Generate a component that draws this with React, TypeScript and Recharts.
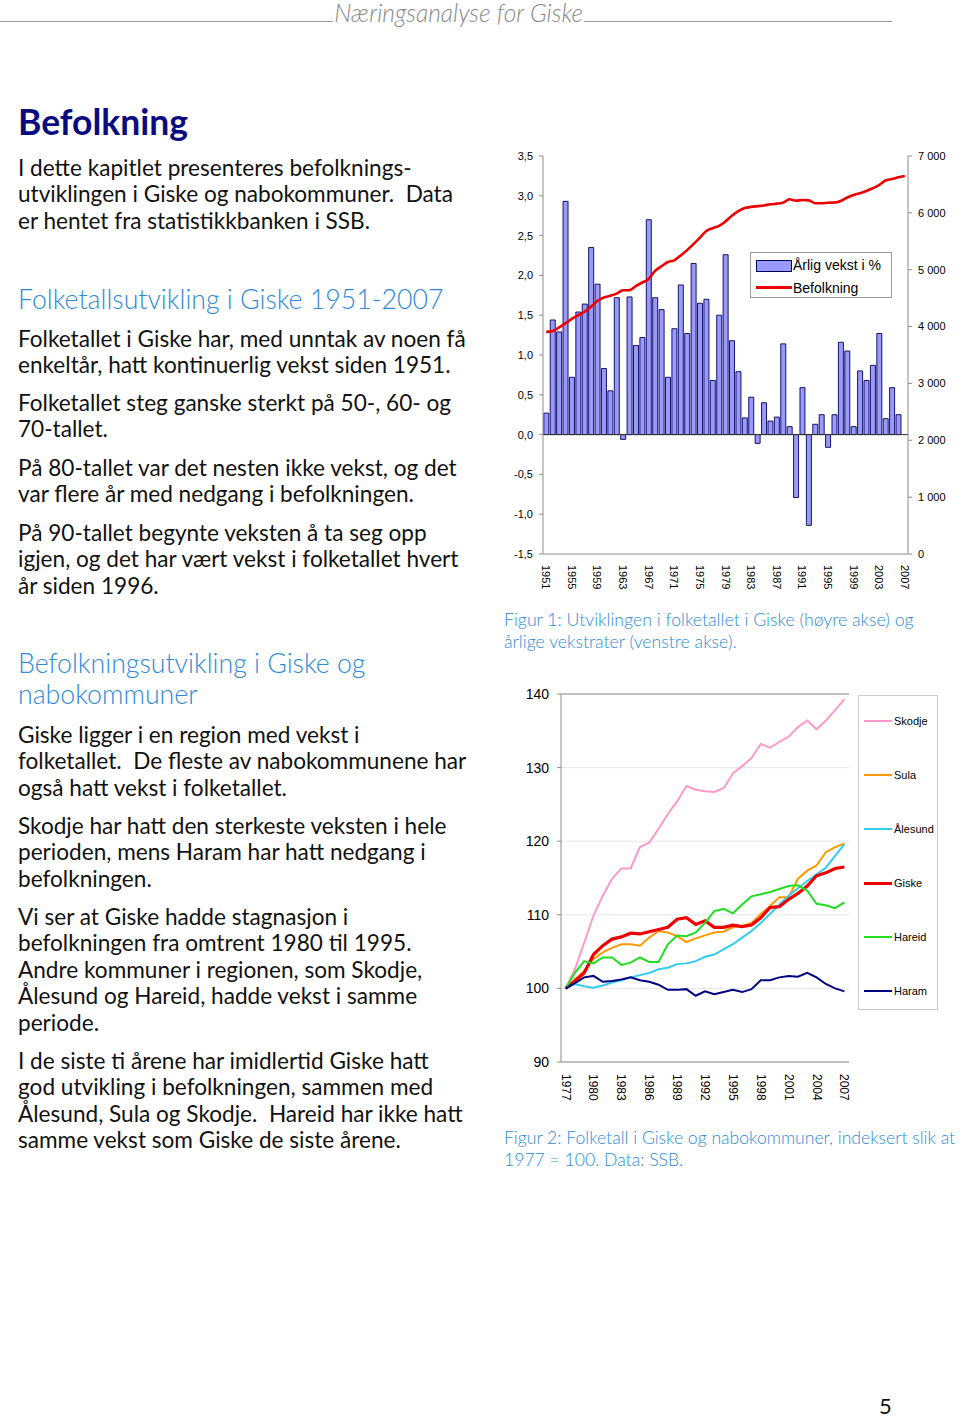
import React from "react";
import { Bar, CartesianGrid, ComposedChart, Line, LineChart, ReferenceLine, XAxis, YAxis } from "recharts";

// Figur 1: Giske 1951-2007
const yearsTop = [
  1951, 1952, 1953, 1954, 1955, 1956, 1957, 1958, 1959, 1960, 1961, 1962, 1963, 1964, 1965,
  1966, 1967, 1968, 1969, 1970, 1971, 1972, 1973, 1974, 1975, 1976, 1977, 1978, 1979, 1980,
  1981, 1982, 1983, 1984, 1985, 1986, 1987, 1988, 1989, 1990, 1991, 1992, 1993, 1994, 1995,
  1996, 1997, 1998, 1999, 2000, 2001, 2002, 2003, 2004, 2005, 2006, 2007,
];
const arligVekst = [
  0.27, 1.44, 1.29, 2.93, 0.72, 1.54, 1.64, 2.35, 1.89, 0.83, 0.55, 1.72, -0.06, 1.73, 1.12,
  1.22, 2.7, 1.72, 1.57, 0.72, 1.33, 1.88, 1.27, 2.15, 1.65, 1.7, 0.68, 1.5, 2.26, 1.18,
  0.79, 0.21, 0.47, -0.11, 0.4, 0.17, 0.22, 1.14, 0.1, -0.79, 0.59, -1.14, 0.13, 0.25, -0.16,
  0.25, 1.16, 1.05, 0.1, 0.8, 0.68, 0.87, 1.27, 0.2, 0.59, 0.25, null,
];
const befolkning = [
  3907, 3920, 3985, 4055, 4137, 4200, 4260, 4350, 4450, 4510, 4540, 4580, 4640, 4640, 4710,
  4775, 4835, 4980, 5060, 5135, 5165, 5250, 5345, 5450, 5565, 5680, 5730, 5770, 5850, 5950,
  6030, 6085, 6105, 6118, 6130, 6150, 6162, 6180, 6240, 6215, 6225, 6220, 6170, 6168, 6178,
  6182, 6210, 6270, 6314, 6344, 6384, 6432, 6490, 6570, 6595, 6625, 6650,
];
const leftTicks = [-1.5, -1, -0.5, 0, 0.5, 1, 1.5, 2, 2.5, 3, 3.5];
const rightTicks = [0, 1000, 2000, 3000, 4000, 5000, 6000, 7000];

// Figur 2: indeks 1977 = 100
const yearsIdx = [
  1977, 1978, 1979, 1980, 1981, 1982, 1983, 1984, 1985, 1986, 1987, 1988, 1989, 1990, 1991,
  1992, 1993, 1994, 1995, 1996, 1997, 1998, 1999, 2000, 2001, 2002, 2003, 2004, 2005, 2006, 2007,
];
const skodje = [
  100, 102.6, 106.2, 109.9, 112.6, 114.9, 116.3, 116.3, 119.2, 119.8, 121.7, 123.7, 125.4, 127.5, 127.0,
  126.8, 126.7, 127.2, 129.2, 130.2, 131.3, 133.2, 132.7, 133.5, 134.2, 135.5, 136.4, 135.2, 136.4, 137.8, 139.3,
];
const sula = [
  100, 101.2, 102.4, 104.0, 104.9, 105.5, 106.0, 106.0, 105.8, 106.9, 107.8, 107.6, 107.1, 106.3, 106.8,
  107.2, 107.6, 107.7, 108.3, 108.5, 108.9, 110.1, 111.2, 112.4, 112.4, 114.9, 116.0, 116.7, 118.5, 119.2, 119.7,
];
const alesund = [
  100, 100.6, 100.3, 100.1, 100.4, 100.8, 101.1, 101.5, 101.8, 102.1, 102.6, 102.8, 103.3, 103.4, 103.7,
  104.3, 104.6, 105.3, 106.0, 106.9, 107.8, 108.9, 110.1, 111.4, 112.6, 113.6, 114.6, 115.5, 116.4, 118.0, 119.6,
];
const giske = [
  100, 101.0, 102.1, 104.6, 105.8, 106.7, 107.0, 107.5, 107.4, 107.7, 108.0, 108.3, 109.4, 109.6, 108.7,
  109.2, 108.3, 108.3, 108.6, 108.4, 108.6, 109.6, 111.0, 111.1, 112.1, 112.9, 113.9, 115.3, 115.7, 116.3, 116.5,
];
const hareid = [
  100, 102.1, 103.7, 103.4, 104.2, 104.2, 103.2, 103.5, 104.2, 103.6, 103.6, 106.0, 107.2, 107.1, 107.6,
  108.9, 110.5, 110.8, 110.2, 111.4, 112.5, 112.8, 113.1, 113.5, 113.9, 114.0, 113.3, 111.5, 111.3, 110.9, 111.7,
];
const haram = [
  100, 100.7, 101.5, 101.7, 100.9, 101.0, 101.2, 101.5, 101.1, 100.9, 100.5, 99.8, 99.8, 99.9, 99.0,
  99.6, 99.2, 99.5, 99.8, 99.5, 99.9, 101.1, 101.1, 101.5, 101.7, 101.6, 102.1, 101.5, 100.6, 100.0, 99.6,
];
const idxTicks = [90, 100, 110, 120, 130, 140];

const kommuner = [
  { key: "skodje", name: "Skodje", values: skodje, color: "#FF99CC", width: 2 },
  { key: "sula", name: "Sula", values: sula, color: "#FF9900", width: 2 },
  { key: "alesund", name: "Ålesund", values: alesund, color: "#33CCEE", width: 2 },
  { key: "giske", name: "Giske", values: giske, color: "#EE0000", width: 3.2 },
  { key: "hareid", name: "Hareid", values: hareid, color: "#22DD22", width: 2 },
  { key: "haram", name: "Haram", values: haram, color: "#000080", width: 2 },
];

const topData = yearsTop.map((year, i) => ({ year, vekst: arligVekst[i], befolkning: befolkning[i] }));
const idxData = yearsIdx.map((year, i) => {
  const row: any = { year };
  kommuner.forEach((k) => (row[k.key] = k.values[i]));
  return row;
});

const BODY = "Lato, 'Noto Sans', sans-serif";
const ARIAL = "'Liberation Sans', Arial, sans-serif";
const BLUE = "#2E8AD8";

const para1 = [
  "I dette kapitlet presenteres befolknings-",
  "utviklingen i Giske og nabokommuner.  Data",
  "er hentet fra statistikkbanken i SSB.",
];
const para2 = ["Folketallet i Giske har, med unntak av noen få", "enkeltår, hatt kontinuerlig vekst siden 1951."];
const para3 = ["Folketallet steg ganske sterkt på 50-, 60- og", "70-tallet."];
const para4 = ["På 80-tallet var det nesten ikke vekst, og det", "var flere år med nedgang i befolkningen."];
const para5 = [
  "På 90-tallet begynte veksten å ta seg opp",
  "igjen, og det har vært vekst i folketallet hvert",
  "år siden 1996.",
];
const para6 = [
  "Giske ligger i en region med vekst i",
  "folketallet.  De fleste av nabokommunene har",
  "også hatt vekst i folketallet.",
];
const para7 = [
  "Skodje har hatt den sterkeste veksten i hele",
  "perioden, mens Haram har hatt nedgang i",
  "befolkningen.",
];
const para8 = [
  "Vi ser at Giske hadde stagnasjon i",
  "befolkningen fra omtrent 1980 til 1995.",
  "Andre kommuner i regionen, som Skodje,",
  "Ålesund og Hareid, hadde vekst i samme",
  "periode.",
];
const para9 = [
  "I de siste ti årene har imidlertid Giske hatt",
  "god utvikling i befolkningen, sammen med",
  "Ålesund, Sula og Skodje.  Hareid har ikke hatt",
  "samme vekst som Giske de siste årene.",
];

function Para({ top, lines, left = 18, size = 22.6, lh = 26.5, color = "#111", weight = 400, font = BODY }: any) {
  return (
    <div
      style={{
        position: "absolute", left, top, fontSize: size, lineHeight: `${lh}px`, color,
        fontWeight: weight, fontFamily: font, whiteSpace: "pre",
      }}
    >
      {lines.map((l: string, i: number) => (
        <div key={i}>{l}</div>
      ))}
    </div>
  );
}

const YearTick = (props: any) => {
  const { x, y, payload, fontSize, dx } = props;
  return (
    <text
      x={x + dx}
      y={y}
      transform={`rotate(90, ${x}, ${y})`}
      dominantBaseline="central"
      textAnchor="start"
      fontSize={fontSize}
      fontFamily={ARIAL}
      fill="#000"
    >
      {payload.value}
    </text>
  );
};

const comma = (v: number) => v.toFixed(1).replace(".", ",");
const thousands = (v: number) => (v === 0 ? "0" : `${Math.floor(v / 1000)} 000`);

export default function App() {
  return (
    <div style={{ position: "absolute", left: 0, top: 0, width: 960, height: 1417, background: "#fff" }}>
      {/* header */}
      <div style={{ position: "absolute", left: 0, top: 0, width: 892, height: 25, display: "flex", alignItems: "flex-end" }}>
        <div style={{ flex: 1, borderBottom: "1px solid #999", marginBottom: 3 }} />
        <div style={{ fontFamily: BODY, fontStyle: "italic", fontWeight: 300, fontSize: 24.5, color: "#888", lineHeight: "25px", padding: "0 1px" }}>
          Næringsanalyse for Giske
        </div>
        <div style={{ width: 308, borderBottom: "1px solid #999", marginBottom: 3 }} />
      </div>

      <Para top={101} lines={["Befolkning"]} size={35.5} lh={42} weight={700} color="#0B0B80" />
      <Para top={154.75} lines={para1} />
      <Para top={283} lines={["Folketallsutvikling i Giske 1951-2007"]} size={26.7} lh={32} weight={300} color={BLUE} />
      <Para top={325.75} lines={para2} />
      <Para top={389.75} lines={para3} />
      <Para top={454.75} lines={para4} />
      <Para top={519.75} lines={para5} />
      <Para top={648} lines={["Befolkningsutvikling i Giske og", "nabokommuner"]} size={26.7} lh={31} weight={300} color={BLUE} />
      <Para top={721.75} lines={para6} />
      <Para top={812.75} lines={para7} />
      <Para top={903.75} lines={para8} />
      <Para top={1047.75} lines={para9} />

      <Para
        top={609}
        left={504}
        size={17.7}
        lh={22}
        weight={300}
        color={BLUE}
        lines={["Figur 1: Utviklingen i folketallet i Giske (høyre akse) og", "årlige vekstrater (venstre akse)."]}
      />
      <Para
        top={1127}
        left={504}
        size={17.6}
        lh={22}
        weight={300}
        color={BLUE}
        lines={["Figur 2: Folketall i Giske og nabokommuner, indeksert slik at", "1977 = 100. Data: SSB."]}
      />
      <Para top={1393} left={879} lines={["5"]} size={22} lh={26} />

      {/* Figur 1 */}
      <div style={{ position: "absolute", left: 490, top: 140 }}>
        <ComposedChart width={470} height={454} data={topData} barCategoryGap="13%" margin={{ top: 16, right: 0, bottom: 0, left: 0 }}>
          <XAxis
            dataKey="year"
            interval={3}
            height={40}
            tickLine={false}
            tickSize={0}
            axisLine={{ stroke: "#8c8c8c" }}
            tick={<YearTick fontSize={11} dx={9} />}
          />
          <YAxis
            yAxisId="l"
            domain={[-1.5, 3.5]}
            ticks={leftTicks}
            tickFormatter={comma}
            width={53}
            tickSize={4}
            tickMargin={6}
            axisLine={{ stroke: "#8c8c8c" }}
            tickLine={{ stroke: "#8c8c8c" }}
            tick={{ fontSize: 11, fontFamily: ARIAL, fill: "#000" }}
          />
          <YAxis
            yAxisId="r"
            orientation="right"
            domain={[0, 7000]}
            ticks={rightTicks}
            tickFormatter={thousands}
            width={52}
            tickSize={4}
            tickMargin={6}
            axisLine={{ stroke: "#8c8c8c" }}
            tickLine={{ stroke: "#8c8c8c" }}
            tick={{ fontSize: 11, fontFamily: ARIAL, fill: "#000" }}
          />
          <ReferenceLine yAxisId="l" y={0} stroke="#333" />
          <Bar yAxisId="l" dataKey="vekst" fill="#9999FF" stroke="#000050" strokeWidth={0.9} isAnimationActive={false} />
          <Line
            yAxisId="r"
            dataKey="befolkning"
            type="monotone"
            stroke="#EE0000"
            strokeWidth={2.6}
            dot={false}
            isAnimationActive={false}
          />
        </ComposedChart>
      </div>
      <div style={{ position: "absolute", left: 750, top: 252, width: 142, height: 46, boxSizing: "border-box", border: "1px solid #999", background: "#fff", fontFamily: ARIAL, fontSize: 14, color: "#000" }}>
        <div style={{ position: "absolute", left: 5, top: 7, width: 34, height: 10, background: "#9999FF", border: "1px solid #000050" }} />
        <div style={{ position: "absolute", left: 42, top: 3, lineHeight: "18px" }}>Årlig vekst i %</div>
        <div style={{ position: "absolute", left: 5, top: 33, width: 36, height: 3, background: "#EE0000" }} />
        <div style={{ position: "absolute", left: 42, top: 26, lineHeight: "18px" }}>Befolkning</div>
      </div>

      {/* Figur 2 */}
      <div style={{ position: "absolute", left: 500, top: 680 }}>
        <LineChart width={450} height={422} data={idxData} margin={{ top: 14, right: 101, bottom: 0, left: 0 }}>
          <CartesianGrid vertical={false} stroke="#E6E6E6" />
          <XAxis
            dataKey="year"
            interval={2}
            height={40}
            padding={{ left: 4.6, right: 4.6 }}
            tickLine={false}
            tickSize={0}
            axisLine={{ stroke: "#8c8c8c" }}
            tick={<YearTick fontSize={12} dx={10} />}
          />
          <YAxis
            domain={[90, 140]}
            ticks={idxTicks}
            width={61}
            tickSize={4}
            tickMargin={8}
            axisLine={{ stroke: "#8c8c8c" }}
            tickLine={{ stroke: "#8c8c8c" }}
            tick={{ fontSize: 14, fontFamily: ARIAL, fill: "#000" }}
          />
          <YAxis yAxisId="box" orientation="right" domain={[90, 140]} width={0} tick={false} tickLine={false} axisLine={{ stroke: "#8c8c8c" }} />
          <ReferenceLine y={140} stroke="#8c8c8c" />
          {kommuner.map((k) => (
            <Line
              key={k.key}
              dataKey={k.key}
              name={k.name}
              type="linear"
              stroke={k.color}
              strokeWidth={k.width}
              dot={false}
              isAnimationActive={false}
            />
          ))}
        </LineChart>
      </div>
      <div style={{ position: "absolute", left: 858, top: 695, width: 80, height: 315, boxSizing: "border-box", border: "1px solid #ccc", fontFamily: ARIAL, fontSize: 11, color: "#000" }}>
        {kommuner.map((k, i) => (
          <div key={k.key} style={{ position: "absolute", left: 5, top: 18 + i * 54, height: 14, display: "flex", alignItems: "center" }}>
            <div style={{ width: 28, height: k.width > 2 ? 3 : 2, background: k.color }} />
            <div style={{ marginLeft: 2 }}>{k.name}</div>
          </div>
        ))}
      </div>
    </div>
  );
}
